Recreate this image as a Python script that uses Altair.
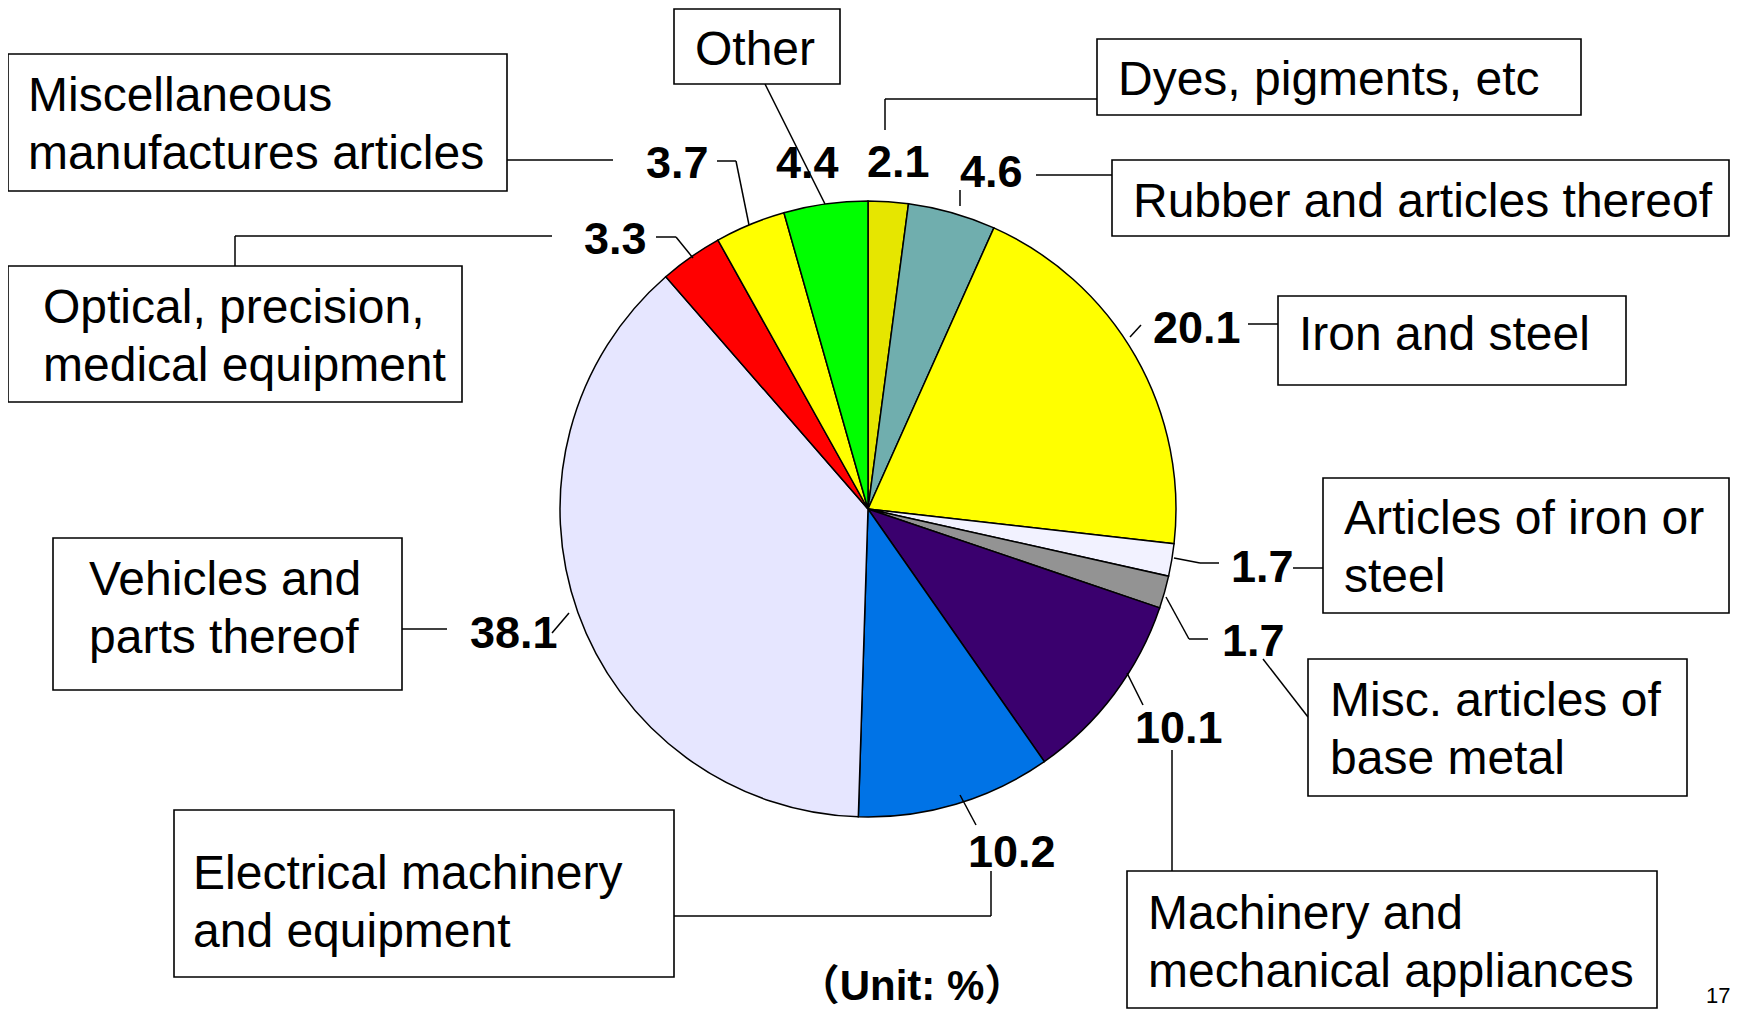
import altair as alt
import pandas as pd

# ---------------- data ----------------
categories = [
    "Dyes, pigments, etc",
    "Rubber and articles thereof",
    "Iron and steel",
    "Articles of iron or steel",
    "Misc. articles of base metal",
    "Machinery and mechanical appliances",
    "Electrical machinery and equipment",
    "Vehicles and parts thereof",
    "Optical, precision, medical equipment",
    "Miscellaneous manufactures articles",
    "Other",
]
shares = [2.1, 4.6, 20.1, 1.7, 1.7, 10.1, 10.2, 38.1, 3.3, 3.7, 4.4]
box_labels = [
    "Dyes, pigments, etc",
    "Rubber and articles thereof",
    "Iron and steel",
    "Articles of iron or\nsteel",
    "Misc. articles of\nbase metal",
    "Machinery and\nmechanical appliances",
    "Electrical machinery\nand equipment",
    "Vehicles and\nparts thereof",
    "Optical, precision,\nmedical equipment",
    "Miscellaneous\nmanufactures articles",
    "Other",
]
colors = ["#E6E600", "#70AEAE", "#FFFF00", "#F2F2FF", "#939393", "#3A006E",
          "#0073E6", "#E6E6FF", "#FF0000", "#FFFF00", "#00FF00"]
unit_text = "（Unit: %）"
page_no = "17"

# ---------------- layout (page pixel coordinates) ----------------
PIE_CX, PIE_CY, PIE_R = 868, 509, 308
box_pos = [  # x1, y1, x2, y2, text x, first baseline
    (1097, 39, 1581, 115, 1118, 95),
    (1112, 160, 1729, 236, 1133, 217),
    (1278, 296, 1626, 385, 1299, 350),
    (1323, 478, 1729, 613, 1344, 534),
    (1308, 659, 1687, 796, 1330, 716),
    (1127, 871, 1657, 1008, 1148, 929),
    (174, 810, 674, 977, 193, 889),
    (53, 538, 402, 690, 89, 595),
    (8, 266, 462, 402, 43, 323),
    (8, 54, 507, 191, 28, 111),
    (674, 9, 840, 84, 695, 65),
]
value_pos = [  # left x, baseline
    (867, 177), (960, 187), (1153, 343), (1231, 582), (1222, 656),
    (1135, 743), (968, 867), (470, 648), (584, 254), (646, 178), (776, 178),
]
leader_segs = [
    (507, 160, 613, 160),
    (717, 161, 736, 161), (736, 161, 749, 225),
    (765, 84, 825, 204),
    (1097, 99, 885, 99), (885, 99, 885, 130),
    (960, 190, 960, 206), (1036, 175, 1112, 175),
    (656, 237, 676, 237), (676, 237, 693, 258),
    (235, 266, 235, 236), (235, 236, 552, 236),
    (1130, 337, 1141, 325), (1248, 324, 1278, 324),
    (1174, 558, 1200, 563), (1200, 563, 1219, 563), (1293, 568, 1323, 568),
    (1166, 597, 1189, 639), (1189, 639, 1208, 639), (1263, 659, 1308, 717),
    (1127, 673, 1143, 705), (1172, 750, 1172, 871),
    (960, 795, 976, 825), (991, 871, 991, 916), (991, 916, 674, 916),
    (552, 633, 569, 613), (402, 629, 447, 629),
]

FONT = "Liberation Sans, Arial, Noto Sans CJK JP, sans-serif"

X = alt.Scale(domain=[8, 1730], nice=False, zero=False)
Y = alt.Scale(domain=[8, 1015], nice=False, zero=False, reverse=True)

pie_df = pd.DataFrame({"category": categories, "share": shares,
                       "idx": list(range(len(categories)))})
box_df = pd.DataFrame({
    "x1": [b[0] for b in box_pos], "y1": [b[1] for b in box_pos],
    "x2": [b[2] for b in box_pos], "y2": [b[3] for b in box_pos],
    "tx": [b[4] for b in box_pos], "ty": [b[5] for b in box_pos],
    "label": box_labels,
})
val_df = pd.DataFrame({
    "x": [p[0] for p in value_pos], "y": [p[1] for p in value_pos],
    "label": [f"{v:.1f}" for v in shares],
})
seg_df = pd.DataFrame(leader_segs, columns=["x1", "y1", "x2", "y2"])

pie = alt.Chart(pie_df).mark_arc(radius=PIE_R, stroke="black", strokeWidth=1.5).encode(
    theta=alt.Theta("share:Q", stack=True),
    color=alt.Color("category:N", scale=alt.Scale(domain=categories, range=colors), legend=None),
    order=alt.Order("idx:Q"),
    x=alt.XDatum(PIE_CX, type="quantitative", scale=X, axis=None),
    y=alt.YDatum(PIE_CY, type="quantitative", scale=Y, axis=None),
)

leaders = alt.Chart(seg_df).mark_rule(color="black", strokeWidth=1.5).encode(
    x=alt.X("x1:Q", scale=X, axis=None), x2="x2:Q",
    y=alt.Y("y1:Q", scale=Y, axis=None), y2="y2:Q",
)

boxes = alt.Chart(box_df).mark_rect(fill="white", stroke="black", strokeWidth=1.6).encode(
    x=alt.X("x1:Q", scale=X, axis=None), x2="x2:Q",
    y=alt.Y("y1:Q", scale=Y, axis=None), y2="y2:Q",
)

box_text = alt.Chart(box_df).mark_text(
    align="left", baseline="alphabetic", fontSize=48, lineHeight=58,
    lineBreak="\n", font=FONT, color="black",
).encode(
    x=alt.X("tx:Q", scale=X, axis=None), y=alt.Y("ty:Q", scale=Y, axis=None),
    text="label:N",
)

val_text = alt.Chart(val_df).mark_text(
    align="left", baseline="alphabetic", fontSize=45, fontWeight="bold",
    font=FONT, color="black",
).encode(
    x=alt.X("x:Q", scale=X, axis=None), y=alt.Y("y:Q", scale=Y, axis=None),
    text="label:N",
)

unit = alt.Chart(pd.DataFrame({"t": [unit_text]})).mark_text(
    align="center", baseline="alphabetic", fontSize=42, fontWeight="bold",
    font=FONT, color="black",
).encode(
    x=alt.XDatum(912, type="quantitative", scale=X, axis=None),
    y=alt.YDatum(1000, type="quantitative", scale=Y, axis=None),
    text="t:N",
)

page = alt.Chart(pd.DataFrame({"t": [page_no]})).mark_text(
    align="left", baseline="alphabetic", fontSize=22, font=FONT, color="black",
).encode(
    x=alt.XDatum(1706, type="quantitative", scale=X, axis=None),
    y=alt.YDatum(1003, type="quantitative", scale=Y, axis=None),
    text="t:N",
)

chart = alt.layer(pie, leaders, boxes, box_text, val_text, unit, page).properties(
    width=1722, height=1007, padding=0,
    autosize=alt.AutoSizeParams(type="none"),
    background="white",
).configure_view(stroke=None)

chart.save("out.html", embed_options={"renderer": "svg", "actions": False})
